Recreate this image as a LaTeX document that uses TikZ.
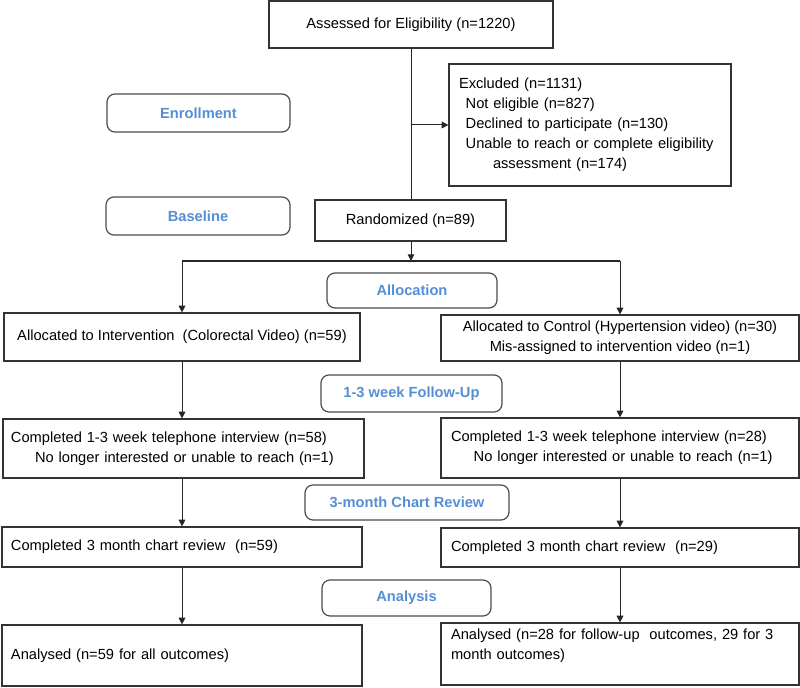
\documentclass[tikz,border=0pt]{standalone}
\usepackage{fontspec}
\setmainfont{Liberation Sans}
\usetikzlibrary{arrows.meta}
\definecolor{labblue}{HTML}{558ED5}
\begin{document}
\begin{tikzpicture}[x=0.75pt,y=-0.75pt,
  box/.style={draw=black!80, line width=0.9pt, inner sep=0pt, font=\fontsize{11}{15}\selectfont},
  lbox/.style={box, align=left},
  lab/.style={draw=black!70, rounded corners=6pt, line width=0.9pt, inner sep=0pt,
    font=\bfseries\fontsize{11}{13}\selectfont, text=labblue},
  arr/.style={-{Triangle[length=5pt,width=5pt]}, line width=0.75pt, draw=black!85},
  ln/.style={line width=0.75pt, draw=black!85}]
\useasboundingbox (0,0) rectangle (800,688);

% main column
\node[box, minimum width=213pt, minimum height=35.25pt] (assess) at (411,24.5) {Assessed for Eligibility (n=1220)};
\node[lbox, minimum width=211.5pt, minimum height=91.5pt, inner xsep=7.5pt, text width=196.5pt] (excl) at (590,125)
 {Excluded (n=1131)\\
  \hspace*{5pt}Not eligible (n=827)\\
  \hspace*{5pt}Declined to participate (n=130)\\
  \hspace*{5pt}Unable to reach or complete eligibility\\
  \hspace*{25.5pt}assessment (n=174)};
\node[box, minimum width=143.25pt, minimum height=30.75pt] (rand) at (410.5,220.5) {Randomized (n=89)};

% stage labels
\node[lab, minimum width=137.25pt, minimum height=28.5pt] (enroll) at (198.5,113) {Enrollment};
\node[lab, minimum width=138pt, minimum height=28.5pt] (base) at (198,216) {Baseline};
\node[lab, minimum width=127.5pt, minimum height=26.25pt] (alloc) at (412,290.5) {Allocation};
\node[lab, minimum width=135.75pt, minimum height=27.75pt] (fu) at (411.5,393.5) {1-3 week Follow-Up};
\node[lab, minimum width=153pt, minimum height=26.25pt] (chart) at (407,502.5) {3-month Chart Review};
\node[lab, minimum width=126.75pt, minimum height=27pt] (anal) at (406.5,598) {Analysis};

% left arm
\node[box, minimum width=267pt, minimum height=36pt] (L1) at (182,337) {Allocated to Intervention\ \ (Colorectal Video) (n=59)};
\node[lbox, minimum width=270.75pt, minimum height=44.25pt, inner xsep=6pt, text width=258.75pt] (L2) at (183.5,448.5)
 {Completed 1-3 week telephone interview (n=58)\\
  \hspace*{18pt}No longer interested or unable to reach (n=1)};
\node[lbox, minimum width=270pt, minimum height=30pt, inner xsep=6.75pt, text width=256.5pt] (L3) at (182,547)
 {Completed 3 month chart review\ \ (n=59)};
\node[lbox, minimum width=270pt, minimum height=45.75pt, inner xsep=6.75pt, text width=256.5pt] (L4) at (182,655.5)
 {Analysed (n=59 for all outcomes)};

% right arm
\node[box, align=center, minimum width=268.5pt, minimum height=34.5pt] (R1) at (620,338)
 {Allocated to Control (Hypertension video) (n=30)\\ Mis-assigned to intervention video (n=1)};
\node[lbox, minimum width=268.5pt, minimum height=45pt, inner xsep=7.5pt, text width=253.5pt] (R2) at (620,448)
 {Completed 1-3 week telephone interview (n=28)\\
  \hspace*{17pt}No longer interested or unable to reach (n=1)};
\node[lbox, minimum width=268.5pt, minimum height=29.25pt, inner xsep=7.5pt, text width=253.5pt] (R3) at (620,547.5)
 {Completed 3 month chart review\ \ (n=29)};
\node[lbox, minimum width=268.5pt, minimum height=46.5pt, inner xsep=7.5pt, text width=253.5pt] (R4) at (620,654)
 {Analysed (n=28 for follow-up\ \ outcomes, 29 for 3\\ month outcomes)\\ \mbox{}};

% connectors
\coordinate (ex) at (411,125);
\coordinate (split) at (411,261);
\coordinate (sl) at (182,261);
\coordinate (sr) at (620,261);
\draw[ln] (assess.south) -- (assess.south |- rand.north);
\draw[arr] (ex) -- (excl.west);
\draw[arr] (rand.south -| split) -- (split);
\draw[ln] (sl) -- (sr);
\draw[arr] (sl) -- (sl |- L1.north);
\draw[arr] (sr) -- (sr |- R1.north);
\draw[arr] (L1.south) -- (L1.south |- L2.north);
\draw[arr] (L1.south |- L2.south) -- (L1.south |- L3.north);
\draw[arr] (L3.south) -- (L3.south |- L4.north);
\draw[arr] (R1.south) -- (R1.south |- R2.north);
\draw[arr] (R2.south) -- (R2.south |- R3.north);
\draw[arr] (R3.south) -- (R3.south |- R4.north);
\end{tikzpicture}
\end{document}
